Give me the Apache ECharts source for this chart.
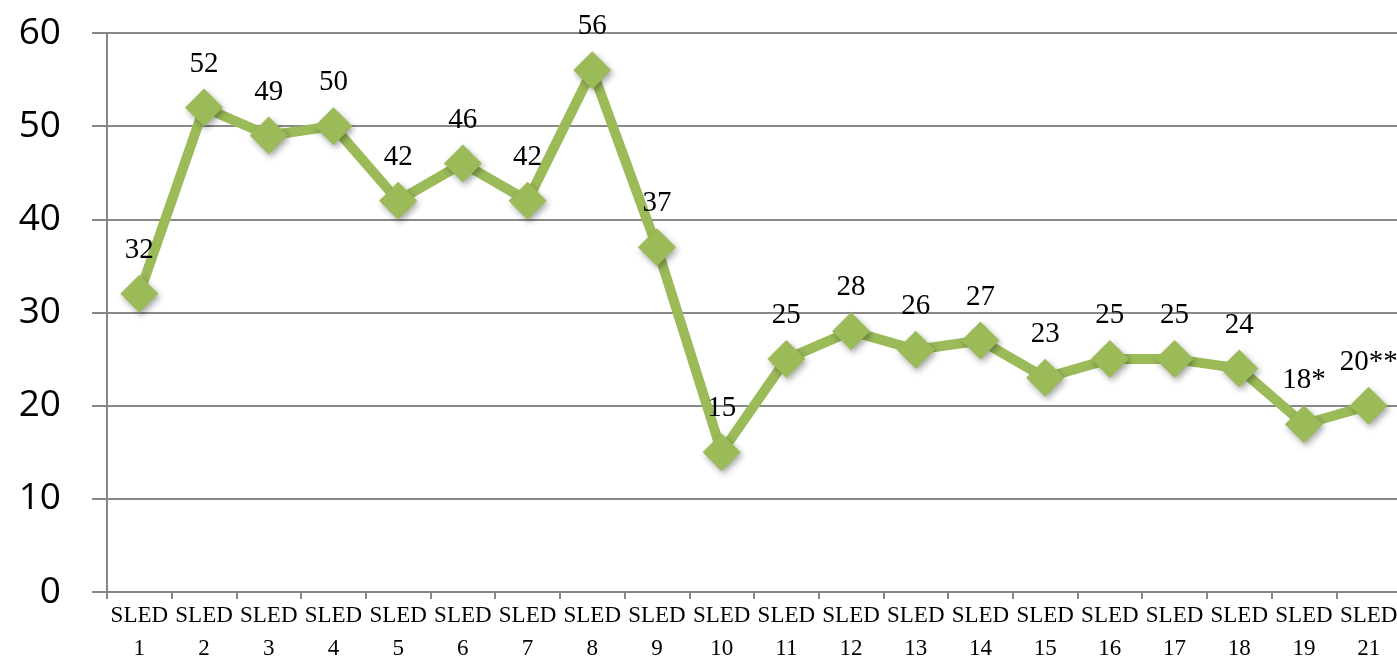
<!DOCTYPE html>
<html><head><meta charset="utf-8">
<script src="https://cdn.jsdelivr.net/npm/echarts@6/dist/echarts.min.js"></script>
<style>html,body{margin:0;padding:0;background:#fff}#c{width:1397px;height:660px}</style>
</head><body><div id="c"></div>
<script>
const categories = ["SLED\n1","SLED\n2","SLED\n3","SLED\n4","SLED\n5","SLED\n6","SLED\n7","SLED\n8","SLED\n9","SLED\n10","SLED\n11","SLED\n12","SLED\n13","SLED\n14","SLED\n15","SLED\n16","SLED\n17","SLED\n18","SLED\n19","SLED\n21"];
const values = [32,52,49,50,42,46,42,56,37,15,25,28,26,27,23,25,25,24,18,20];
const pointLabels = ["32","52","49","50","42","46","42","56","37","15","25","28","26","27","23","25","25","24","18*","20**"];
const yTicks = {min:0, max:60, interval:10};

const chart = echarts.init(document.getElementById('c'));
chart.setOption({
  animation:false,
  grid:{left:107, top:33, width:1294, height:559, containLabel:false, outerBoundsMode:'none'},
  xAxis:{
    type:'category', data:categories, boundaryGap:true,
    axisLine:{lineStyle:{color:'#868686', width:2}},
    axisTick:{show:true, length:7, lineStyle:{color:'#868686', width:2}},
    axisLabel:{interval:0, color:'#000', fontFamily:'Liberation Serif', fontSize:23, lineHeight:33, margin:7}
  },
  yAxis:{
    type:'value', min:yTicks.min, max:yTicks.max, interval:yTicks.interval,
    axisLine:{show:true, lineStyle:{color:'#868686', width:2}},
    axisTick:{show:true, length:15, lineStyle:{color:'#868686', width:2}},
    splitLine:{lineStyle:{color:'#898989', width:2}},
    axisLabel:{color:'#000', fontFamily:'Open Sans', fontSize:37, margin:46}
  },
  series:[{
    type:'line', data:values,
    lineStyle:{color:'#9BBB59', width:10},
    symbol:'diamond', symbolSize:[38,38],
    itemStyle:{color:'#9BBB59', shadowColor:'rgba(0,0,0,0.35)', shadowBlur:6, shadowOffsetX:2, shadowOffsetY:3},
    label:{show:true, position:'top', distance:10, color:'#000', fontFamily:'Liberation Serif', fontSize:29,
      formatter:p=>pointLabels[p.dataIndex]}
  }]
});
</script></body></html>
